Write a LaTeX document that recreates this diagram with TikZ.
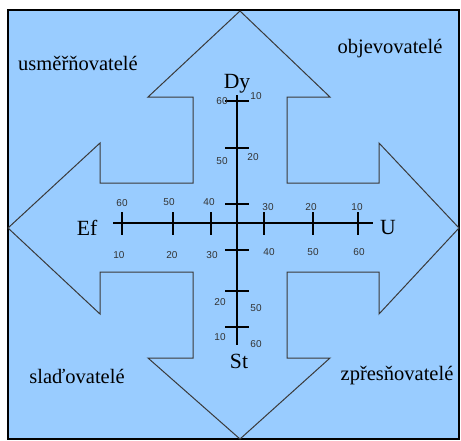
\documentclass[tikz,border=0pt]{standalone}
\usepackage{fontspec}
\setmainfont{Liberation Serif}
\newfontfamily\tickfont{Liberation Sans}
\usepackage{tikz}
\definecolor{skyfill}{HTML}{99CCFF}
\definecolor{outline}{HTML}{3A3A3A}
\tikzset{
  frame/.style={draw=black, line width=0.9pt, fill=skyfill},
  crossarrow/.style={draw=outline, line width=0.6pt, fill=skyfill, line join=miter},
  axis/.style={draw=black, line width=0.8pt},
  ticker/.style={draw=black, line width=0.75pt},
  axislabel/.style={font=\fontsize{13}{15}\selectfont, inner sep=0pt},
  ticklabel/.style={font=\tickfont\fontsize{6}{7}\selectfont, text=black!80, inner sep=0pt},
  group/.style={font=\fontsize{12.3}{14}\selectfont, inner sep=0pt}
}

\begin{document}
\begin{tikzpicture}[x=0.6pt, y=-0.6pt]
  \useasboundingbox (0,0) rectangle (461,440);
  \draw[frame] (8,10) rectangle (459,439);

  % four-way arrow
  \draw[crossarrow] (240,11) -- (330,97) -- (287,97) -- (287,183) -- (379,183)
    -- (379,143) -- (459,228) -- (379,314) -- (379,272) -- (287,272)
    -- (287,358) -- (330,358) -- (240,439) -- (148,358) -- (193,358)
    -- (193,272) -- (100,272) -- (100,314) -- (8,228) -- (100,143)
    -- (100,183) -- (193,183) -- (193,97) -- (148,97) -- cycle;

  % axes
  \coordinate (axW) at (113,223);
  \coordinate (axE) at (373,223);
  \coordinate (axN) at (237,95);
  \coordinate (axS) at (237,345);
  \draw[axis] (axW) -- (axE);
  \draw[axis] (axN) -- (axS);
  \foreach \tx in {122,173,211,264,313,358}
    \draw[ticker] (\tx,212) -- (\tx,235);
  \foreach \ty in {101,148,204,250,291,327}
    \draw[ticker] (225,\ty) -- (249,\ty);

  \node[axislabel] (ef) at (87,228) {Ef};
  \node[axislabel] (u)  at (388,228) {U};
  \node[axislabel] (dy) at (237,84) {Dy};
  \node[axislabel] (st) at (239,361) {St};

  % scale numbers
  \foreach \lx/\ly/\lt [count=\i] in {
      222/101/60, 256/96/10, 222/161/50, 253/157/20,
      220/302/20, 256/308/50, 220/337/10, 256/344/60,
      122/203/60, 169/202/50, 209/202/40, 268/207/30, 311/207/20, 357/207/10,
      119/255/10, 172/255/20, 212/255/30, 269/252/40, 313/252/50, 359/252/60}
    \node[ticklabel] (num\i) at (\lx,\ly) {\lt};

  \node[group] (usm) at (78,63) {usměřňovatelé};
  \node[group] (obj) at (390,49) {objevovatelé};
  \node[group] (sla) at (77,376) {slaďovatelé};
  \node[group] (zpr) at (397,376) {zpřesňovatelé};
\end{tikzpicture}
\end{document}
